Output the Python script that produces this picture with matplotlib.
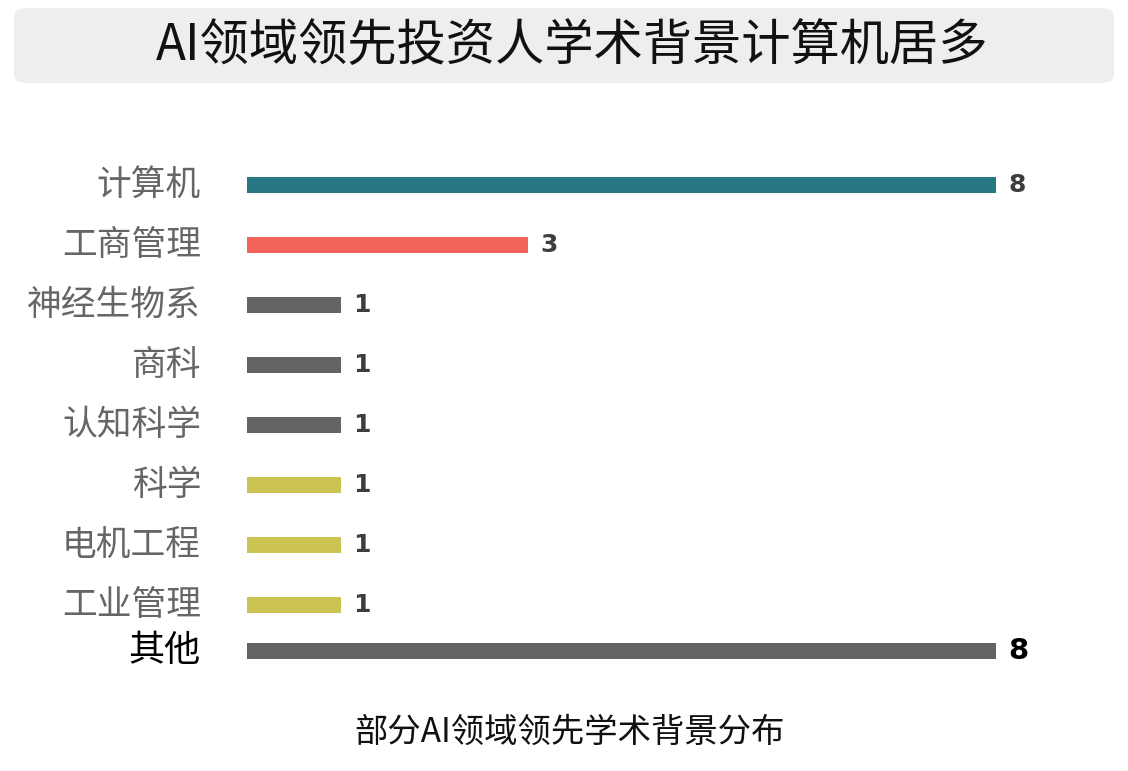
import numpy as np
import matplotlib.pyplot as plt
from matplotlib.patches import FancyBboxPatch

plt.rcParams['font.family'] = ['Noto Sans CJK SC', 'DejaVu Sans']

# data
categories = ['计算机', '工商管理', '神经生物系', '商科', '认知科学', '科学', '电机工程', '工业管理', '其他']
values = [8, 3, 1, 1, 1, 1, 1, 1, 8]
colors = ['#277784', '#f2645a', '#636466', '#636466', '#636466',
          '#cbc352', '#cbc352', '#cbc352', '#636466']
title = 'AI领域领先投资人学术背景计算机居多'
subtitle = '部分AI领域领先学术背景分布'

fig = plt.figure(figsize=(11.28, 7.71), dpi=100)

# title box
box = FancyBboxPatch((14 / 1128, 1 - 83 / 771), (1114 - 14) / 1128, 75 / 771,
                     boxstyle='round,pad=0,rounding_size=0.012',
                     transform=fig.transFigure, facecolor='#eeeeee',
                     edgecolor='none')
fig.patches.append(box)
fig.text(572 / 1128, 1 - 46 / 771, title, ha='center', va='center',
         fontsize=35.5, color='#111111', weight='light')

# axes: left edge at bar start, 8 units -> 749 px
ax = fig.add_axes([247 / 1128, 1 - 680 / 771, (1100 - 247) / 1128, (680 - 155) / 771])
ypos = np.arange(len(categories), dtype=float)
ypos[-1] = ypos[-2] + 0.77

ax.barh(ypos, values, height=0.27, color=colors)
ax.set_xlim(0, 8 * 853 / 749)
ax.set_ylim(8.25, -0.5)
ax.axis('off')

for i, (cat, v) in enumerate(zip(categories, values)):
    last = i == len(categories) - 1
    ax.text(-0.49, ypos[i], cat, ha='right', va='center',
            fontsize=25 if not last else 26,
            color='#000000' if last else '#666666', weight='light')
    ax.text(v + 0.13, ypos[i], str(v), ha='left', va='center',
            fontsize=18 if not last else 21, weight='bold',
            family='DejaVu Sans',
            color='#000000' if last else '#3d3d3d')

fig.text(570 / 1128, 1 - 732 / 771, subtitle, ha='center', va='center',
         fontsize=24, color='#111111', weight='light')

fig.savefig('out.png', dpi=100)
